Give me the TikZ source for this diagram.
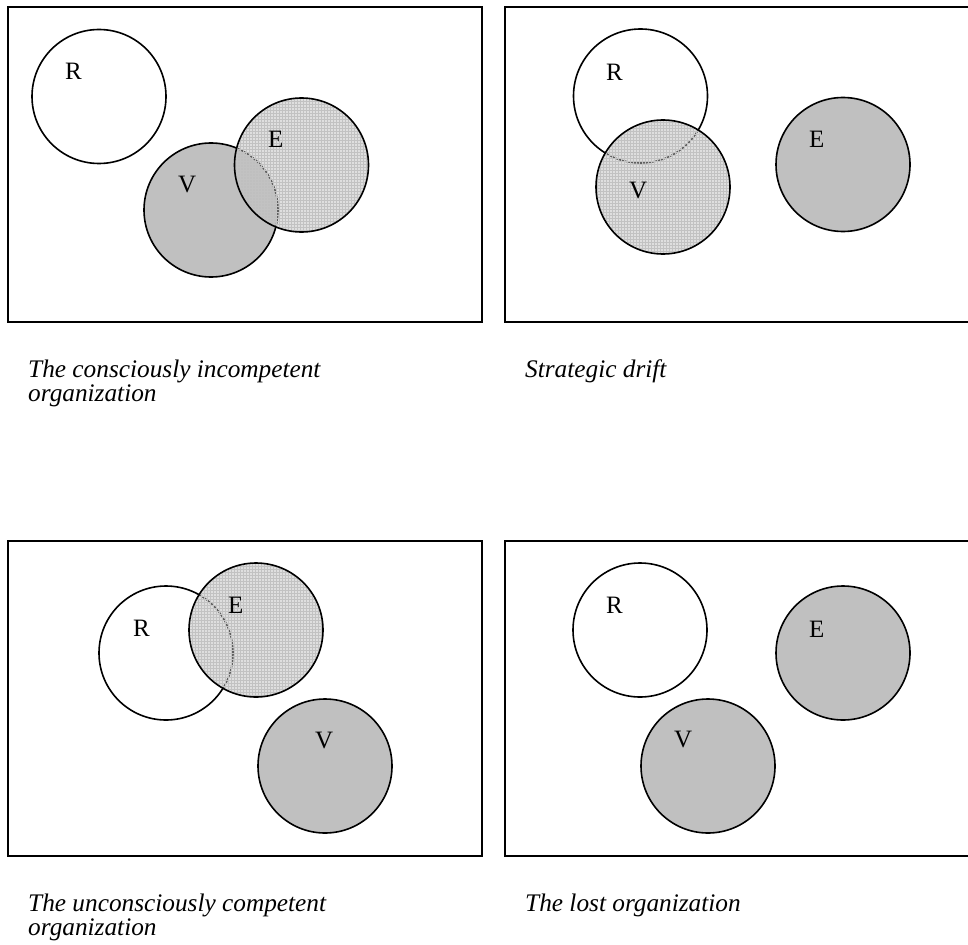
\documentclass[tikz,border=0pt]{standalone}
\usepackage{fontspec}
\setmainfont{Liberation Serif}
\usetikzlibrary{patterns}
\definecolor{silvergray}{HTML}{C0C0C0}
\begin{document}
\begin{tikzpicture}[x=1pt,y=-1pt,
  frame/.style={draw=black, line width=1.7pt},
  ring/.style={circle, minimum size=134pt, inner sep=0pt, outer sep=0pt,
    draw=black, line width=1.6pt},
  openblob/.style={ring, fill=white},
  greyblob/.style={ring, fill=silvergray},
  meshblob/.style={ring, preaction={fill=gray!50, fill opacity=0.5},
    pattern=grid, pattern color=black!24},
  letter/.style={anchor=base west, inner sep=0pt,
    font=\fontsize{25}{25}\selectfont},
  caption/.style={anchor=base west, inner sep=0pt,
    font=\fontsize{25.3}{25.3}\selectfont\itshape}
]
\useasboundingbox (0,0) rectangle (968,944);
\clip (0,0) rectangle (968,944);

% panel frames
\draw[frame] (8,7) rectangle (482,322);
\draw[frame] (505,7) rectangle (980,322);
\draw[frame] (8,541) rectangle (482,856);
\draw[frame] (505,541) rectangle (980,856);

% the consciously incompetent organization
\node[openblob] (tlR) at (99,96.5) {};
\node[greyblob] (tlV) at (211,210) {};
\node[meshblob] (tlE) at (301.5,165) {};
\node[letter] (tlRl) at (65,80) {R};
\node[letter] (tlEl) at (268,148) {E};
\node[letter] (tlVl) at (178,193) {V};

% strategic drift
\node[openblob] (trR) at (640.5,96) {};
\node[meshblob] (trV) at (663,187) {};
\node[greyblob] (trE) at (843,164.5) {};
\node[letter] (trRl) at (606,81) {R};
\node[letter] (trVl) at (629,198) {V};
\node[letter] (trEl) at (809,148) {E};

% the unconsciously competent organization
\node[openblob] (blR) at (166,653) {};
\node[meshblob] (blE) at (256,630) {};
\node[greyblob] (blV) at (325,766) {};
\node[letter] (blRl) at (133,636) {R};
\node[letter] (blEl) at (228,613) {E};
\node[letter] (blVl) at (315,748) {V};

% the lost organization
\node[openblob] (brR) at (640,630) {};
\node[greyblob] (brE) at (843,653) {};
\node[greyblob] (brV) at (708,766) {};
\node[letter] (brRl) at (606,613) {R};
\node[letter] (brEl) at (809,637) {E};
\node[letter] (brVl) at (674,747) {V};

% captions
\node[caption] (capA1) at (28,377.3) {The consciously incompetent};
\node[caption] (capA2) at (28,401.7) {organization};
\node[caption] (capB1) at (525,377.3) {Strategic drift};
\node[caption] (capC1) at (28,911) {The unconsciously competent};
\node[caption] (capC2) at (28,935.4) {organization};
\node[caption] (capD1) at (525,911) {The lost organization};
\end{tikzpicture}
\end{document}
